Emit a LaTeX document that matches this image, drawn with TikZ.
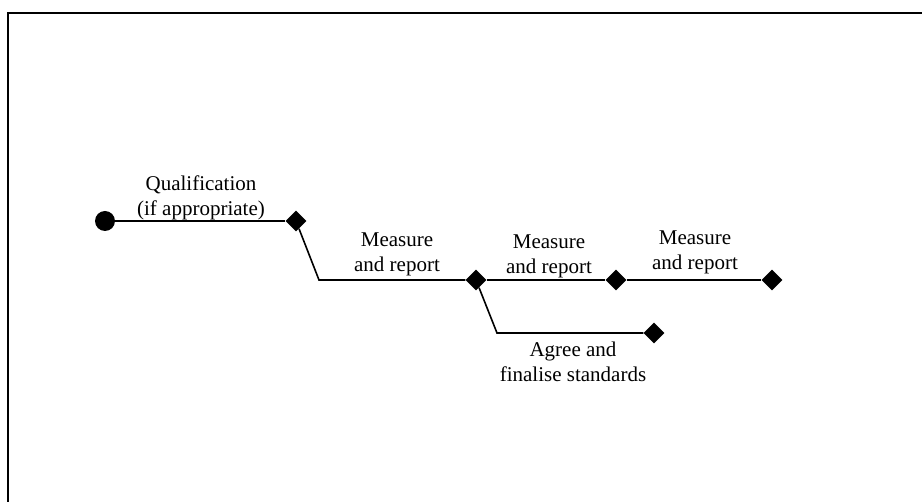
\documentclass[tikz,border=0pt]{standalone}
\usepackage{fontspec}
\setmainfont{Liberation Serif}
\usetikzlibrary{shapes.geometric}
\begin{document}
\begin{tikzpicture}[x=1pt,y=-1pt,
  frameline/.style={line width=2pt},
  link/.style={line width=1.6pt},
  milestone/.style={diamond,fill=black,minimum size=21pt,inner sep=0pt},
  startpt/.style={circle,fill=black,minimum size=20pt,inner sep=0pt},
  lbl/.style={font=\fontsize{21}{25}\selectfont,align=center,inner sep=0pt,anchor=base}]
  \useasboundingbox (0,0) rectangle (922,502);
  % open frame: top and left edges only
  \coordinate (ftl) at (8.3,13);
  \coordinate (ftr) at (922,13);
  \coordinate (fbl) at (8.3,502);
  \draw[frameline] (ftr) -- (ftl) -- (fbl);

  % milestones
  \node[startpt]   (s)  at (105,221) {};
  \node[milestone] (m1) at (296,221) {};
  \node[milestone] (m2) at (476,280) {};
  \node[milestone] (m3) at (616,280) {};
  \node[milestone] (m4) at (772,280) {};
  \node[milestone] (m5) at (654,333) {};
  \coordinate (b1) at (319,280);
  \coordinate (b2) at (497,333);

  % connectors
  \draw[link] (s) -- (m1);
  \draw[link] (m1) -- (b1) -- (m2);
  \draw[link] (m2) -- (m3);
  \draw[link] (m3) -- (m4);
  \draw[link] (m2) -- (b2) -- (m5);

  % labels (anchored at the baseline of their last line)
  \node[lbl] (t1) at (201,216) {Qualification\\(if appropriate)};
  \node[lbl] (t2) at (397,272) {Measure\\and report};
  \node[lbl] (t3) at (549,274) {Measure\\and report};
  \node[lbl] (t4) at (695,270) {Measure\\and report};
  \node[lbl] (t5) at (573,382) {Agree and\\finalise standards};
\end{tikzpicture}
\end{document}
